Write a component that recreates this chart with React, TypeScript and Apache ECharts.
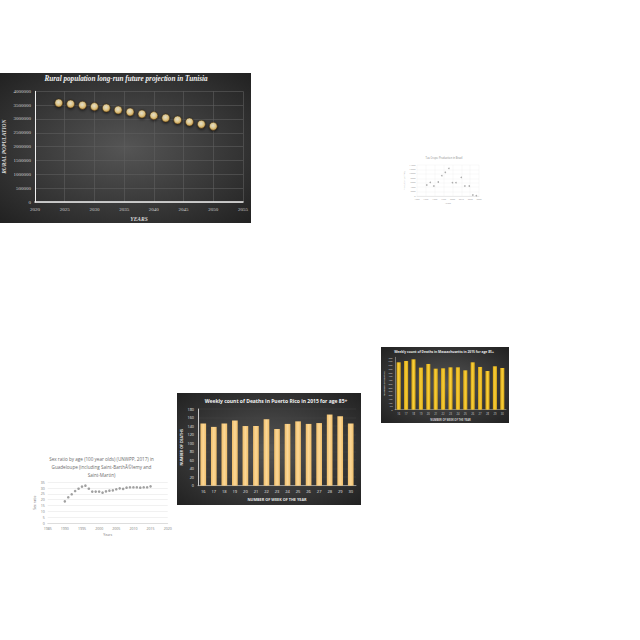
import React, { useEffect, useRef } from "react";
import * as echarts from "echarts";

// ---- Tunisia rural population ----
const tunisiaYears = [2024, 2026, 2028, 2030, 2032, 2034, 2036, 2038, 2040, 2042, 2044, 2046, 2048, 2050];
const tunisiaRural = [3578000, 3542000, 3494000, 3446000, 3398000, 3325000, 3253000, 3181000, 3120000, 3036000, 2964000, 2892000, 2807000, 2735000];

// ---- Tea crops Brazil ----
const teaYears = [1971, 1975, 1979, 1984, 1988, 1992, 1996, 2000, 2004, 2010, 2014, 2019, 2023, 2027];
const teaProduction = [4970, 6170, 4520, 6330, 9190, 10700, 12500, 6020, 6020, 8430, 4520, 4520, 450, 150];

// ---- Weekly deaths ----
const weeks = ["16", "17", "18", "19", "20", "21", "22", "23", "24", "25", "26", "27", "28", "29", "30"];
const maDeaths = [633, 651, 673, 562, 611, 548, 553, 566, 566, 526, 633, 571, 517, 580, 557];
const prDeaths = [146, 138, 146, 153, 140, 140, 156, 133, 145, 151, 145, 147, 167, 163, 146];

// ---- Sex ratio Guadeloupe ----
const sexYears = [1990, 1991, 1992, 1993, 1994, 1995, 1996, 1997, 1998, 1999, 2000, 2001, 2002, 2003, 2004, 2005, 2006, 2007, 2008, 2009, 2010, 2011, 2012, 2013, 2014, 2015];
const sexRatio = [18.6, 22.1, 24.7, 27.5, 29.5, 31.3, 32.1, 29.5, 27.0, 27.0, 27.0, 26.1, 27.2, 27.8, 28.1, 29.0, 29.8, 29.3, 30.4, 30.7, 30.7, 30.7, 30.4, 30.7, 30.7, 31.5];

const SERIF = "'Liberation Serif', 'DejaVu Serif', serif";
const SANS = "'Open Sans', 'Liberation Sans', sans-serif";
const plain = (v: number) => String(v);

const darkBg = {
  type: "radial", x: 0.5, y: 0.5, r: 0.75,
  colorStops: [{ offset: 0, color: "#555555" }, { offset: 1, color: "#1e1e1e" }],
};

export default function App() {
  const ref = useRef<HTMLDivElement>(null);
  useEffect(() => {
    if (!ref.current) return;
    const chart = echarts.init(ref.current, undefined, { renderer: "svg" });
    const option: any = {
      animation: false,
      backgroundColor: "#ffffff",
      graphic: {
        elements: [
          { type: "rect", z: -100, shape: { x: 0, y: 73, width: 251, height: 150 }, style: { fill: darkBg } },
          { type: "rect", z: -100, shape: { x: 381, y: 347, width: 128, height: 76 }, style: { fill: darkBg } },
          { type: "rect", z: -100, shape: { x: 177, y: 393, width: 184, height: 112 }, style: { fill: darkBg } },
          { type: "text", z: 10, x: 126, y: 79, style: { text: "Rural population long-run future projection in Tunisia", fill: "#f2f2f2", font: "italic bold 7.2px " + SERIF, textAlign: "center", textVerticalAlign: "middle" } },
          { type: "text", z: 10, x: 444, y: 158, style: { text: "Tea Crops: Production in Brazil", fill: "#8a8a8a", font: "2.6px " + SANS, textAlign: "center", textVerticalAlign: "middle" } },
          { type: "text", z: 10, x: 444, y: 351, style: { text: "Weekly count of Deaths in Massachusetts in 2015 for age 85+", fill: "#e6e6e6", font: "bold 3.3px " + SANS, textAlign: "center", textVerticalAlign: "middle" } },
          { type: "text", z: 10, x: 276, y: 400.5, style: { text: "Weekly count of Deaths in Puerto Rico in 2015 for age 85+", fill: "#f2f2f2", font: "bold 5px " + SANS, textAlign: "center", textVerticalAlign: "middle" } },
          { type: "text", z: 10, x: 101.5, y: 458.7, style: { text: "Sex ratio by age (100 year olds) (UNWPP, 2017) in", fill: "#6b6b6b", font: "4.6px " + SANS, textAlign: "center", textVerticalAlign: "middle" } },
          { type: "text", z: 10, x: 101.5, y: 466.7, style: { text: "Guadeloupe (including Saint-BarthÃ©lemy and", fill: "#6b6b6b", font: "4.6px " + SANS, textAlign: "center", textVerticalAlign: "middle" } },
          { type: "text", z: 10, x: 101.5, y: 474.7, style: { text: "Saint-Martin)", fill: "#6b6b6b", font: "4.6px " + SANS, textAlign: "center", textVerticalAlign: "middle" } },
        ],
      },
      grid: [
        { left: 35, top: 91.3, width: 208, height: 110.7 },
        { left: 417, top: 165, width: 62, height: 31 },
        { left: 395, top: 357.3, width: 111, height: 52.4 },
        { left: 198, top: 409, width: 158, height: 76.7 },
        { left: 47.7, top: 482.3, width: 120, height: 40.7 },
      ],
      xAxis: [
        {
          gridIndex: 0, type: "value", min: 2020, max: 2055, interval: 5,
          name: "YEARS", nameLocation: "middle", nameGap: 13.5,
          nameTextStyle: { color: "#d9d9d9", fontSize: 5.5, fontWeight: "bold", fontStyle: "italic", fontFamily: SERIF },
          axisLine: { show: true, lineStyle: { color: "#f2f2f2", width: 1.5 } },
          axisTick: { show: false },
          axisLabel: { color: "#cfcfcf", fontSize: 5, fontFamily: SERIF, margin: 5, formatter: plain },
          splitLine: { show: true, lineStyle: { color: "#5e5e5e", width: 0.6 } },
        },
        {
          gridIndex: 1, type: "value", min: 1960, max: 2030, interval: 10,
          name: "Years", nameLocation: "middle", nameGap: 7,
          nameTextStyle: { color: "#9a9a9a", fontSize: 2.3, fontFamily: SANS },
          axisLine: { show: true, lineStyle: { color: "#d9d9d9", width: 0.5 } },
          axisTick: { show: false },
          axisLabel: { color: "#9a9a9a", fontSize: 2.2, fontFamily: SANS, margin: 2, formatter: plain },
          splitLine: { show: true, lineStyle: { color: "#efefef", width: 0.4 } },
        },
        {
          gridIndex: 2, type: "category", data: weeks,
          name: "NUMBER OF WEEK OF THE YEAR", nameLocation: "middle", nameGap: 8.5,
          nameTextStyle: { color: "#d0d0d0", fontSize: 2.6, fontWeight: "bold", fontFamily: SANS },
          axisLine: { show: true, lineStyle: { color: "#bfbfbf", width: 0.5 } },
          axisTick: { show: false },
          axisLabel: { color: "#d0d0d0", fontSize: 2.6, fontFamily: SANS, margin: 2.5, interval: 0 },
          splitLine: { show: false },
        },
        {
          gridIndex: 3, type: "category", data: weeks,
          name: "NUMBER OF WEEK OF THE YEAR", nameLocation: "middle", nameGap: 12,
          nameTextStyle: { color: "#e6e6e6", fontSize: 3.8, fontWeight: "bold", fontFamily: SANS },
          axisLine: { show: true, lineStyle: { color: "#bfbfbf", width: 0.7 } },
          axisTick: { show: false },
          axisLabel: { color: "#e6e6e6", fontSize: 4, fontFamily: SANS, margin: 3.5, interval: 0 },
          splitLine: { show: false },
        },
        {
          gridIndex: 4, type: "value", min: 1985, max: 2020, interval: 5,
          name: "Years", nameLocation: "middle", nameGap: 9.5,
          nameTextStyle: { color: "#7a7a7a", fontSize: 3.5, fontFamily: SANS },
          axisLine: { show: true, lineStyle: { color: "#d0d0d0", width: 0.6 } },
          axisTick: { show: false },
          axisLabel: { color: "#7a7a7a", fontSize: 3.5, fontFamily: SANS, margin: 3, formatter: plain },
          splitLine: { show: false },
        },
      ],
      yAxis: [
        {
          gridIndex: 0, type: "value", min: 0, max: 4000000, interval: 500000,
          name: "RURAL POPULATION", nameLocation: "middle", nameGap: 28,
          nameTextStyle: { color: "#d9d9d9", fontSize: 5.5, fontWeight: "bold", fontStyle: "italic", fontFamily: SERIF },
          axisLine: { show: true, lineStyle: { color: "#f2f2f2", width: 1 } },
          axisTick: { show: false },
          axisLabel: { color: "#cfcfcf", fontSize: 5, fontFamily: SERIF, margin: 4, formatter: plain },
          splitLine: { show: true, lineStyle: { color: "#5e5e5e", width: 0.6 } },
        },
        {
          gridIndex: 1, type: "value", min: 0, max: 14000, interval: 2000,
          name: "Production (tonnes)", nameLocation: "middle", nameGap: 5,
          nameTextStyle: { color: "#9a9a9a", fontSize: 2, fontFamily: SANS },
          axisLine: { show: false },
          axisTick: { show: false },
          axisLabel: { color: "#9a9a9a", fontSize: 2.2, fontFamily: SANS, margin: 1.5, formatter: plain },
          splitLine: { show: true, lineStyle: { color: "#efefef", width: 0.4 } },
        },
        {
          gridIndex: 2, type: "value", min: 0, max: 700, interval: 50,
          name: "NUMBER OF DEATHS", nameLocation: "middle", nameGap: 9,
          nameTextStyle: { color: "#d0d0d0", fontSize: 2.4, fontWeight: "bold", fontFamily: SANS },
          axisLine: { show: true, lineStyle: { color: "#bfbfbf", width: 0.5 } },
          axisTick: { show: false },
          axisLabel: { color: "#d0d0d0", fontSize: 2.4, fontFamily: SANS, margin: 2.5, formatter: plain },
          splitLine: { show: false },
        },
        {
          gridIndex: 3, type: "value", min: 0, max: 180, interval: 20,
          name: "NUMBER OF DEATHS", nameLocation: "middle", nameGap: 15,
          nameTextStyle: { color: "#e6e6e6", fontSize: 3.6, fontWeight: "bold", fontFamily: SANS },
          axisLine: { show: true, lineStyle: { color: "#f2f2f2", width: 0.8 } },
          axisTick: { show: false },
          axisLabel: { color: "#e6e6e6", fontSize: 3.8, fontFamily: SANS, margin: 4, formatter: plain },
          splitLine: { show: true, lineStyle: { color: "#4a4a4a", width: 0.4 } },
        },
        {
          gridIndex: 4, type: "value", min: 0, max: 35, interval: 5,
          name: "Sex ratio", nameLocation: "middle", nameGap: 11.5,
          nameTextStyle: { color: "#7a7a7a", fontSize: 3.5, fontFamily: SANS },
          axisLine: { show: false },
          axisTick: { show: false },
          axisLabel: { color: "#7a7a7a", fontSize: 3.5, fontFamily: SANS, margin: 3, formatter: plain },
          splitLine: { show: true, lineStyle: { color: "#e3e3e3", width: 0.5 } },
        },
      ],
      series: [
        {
          type: "scatter", xAxisIndex: 0, yAxisIndex: 0,
          data: tunisiaYears.map((y, i) => [y, tunisiaRural[i]]),
          symbolSize: 8,
          itemStyle: {
            color: { type: "radial", x: 0.45, y: 0.4, r: 0.6, colorStops: [{ offset: 0, color: "#fffbe6" }, { offset: 0.55, color: "#fbe09a" }, { offset: 1, color: "#d9a548" }] },
            borderColor: "#3a2a10", borderWidth: 0.6,
            shadowColor: "rgba(0,0,0,0.8)", shadowBlur: 3, shadowOffsetY: 1,
          },
        },
        {
          type: "scatter", xAxisIndex: 1, yAxisIndex: 1,
          data: teaYears.map((y, i) => [y, teaProduction[i]]),
          symbolSize: 1.6,
          itemStyle: { color: "#9a9a9a" },
        },
        {
          type: "bar", xAxisIndex: 2, yAxisIndex: 2, data: maDeaths,
          barWidth: "55%",
          itemStyle: { color: { type: "linear", x: 0, y: 0, x2: 1, y2: 0, colorStops: [{ offset: 0, color: "#d9a514" }, { offset: 0.5, color: "#f7cf3a" }, { offset: 1, color: "#d9a514" }] } },
        },
        {
          type: "bar", xAxisIndex: 3, yAxisIndex: 3, data: prDeaths,
          barWidth: "54%",
          itemStyle: { color: { type: "linear", x: 0, y: 0, x2: 1, y2: 0, colorStops: [{ offset: 0, color: "#f0be6a" }, { offset: 0.5, color: "#fbd796" }, { offset: 1, color: "#f0be6a" }] } },
        },
        {
          type: "scatter", xAxisIndex: 4, yAxisIndex: 4,
          data: sexYears.map((y, i) => [y, sexRatio[i]]),
          symbolSize: 2.6,
          itemStyle: { color: "#8a8a8a" },
        },
      ],
    };
    chart.setOption(option);
    return () => chart.dispose();
  }, []);
  return <div ref={ref} style={{ position: "fixed", left: 0, top: 0, width: 640, height: 640 }} />;
}
